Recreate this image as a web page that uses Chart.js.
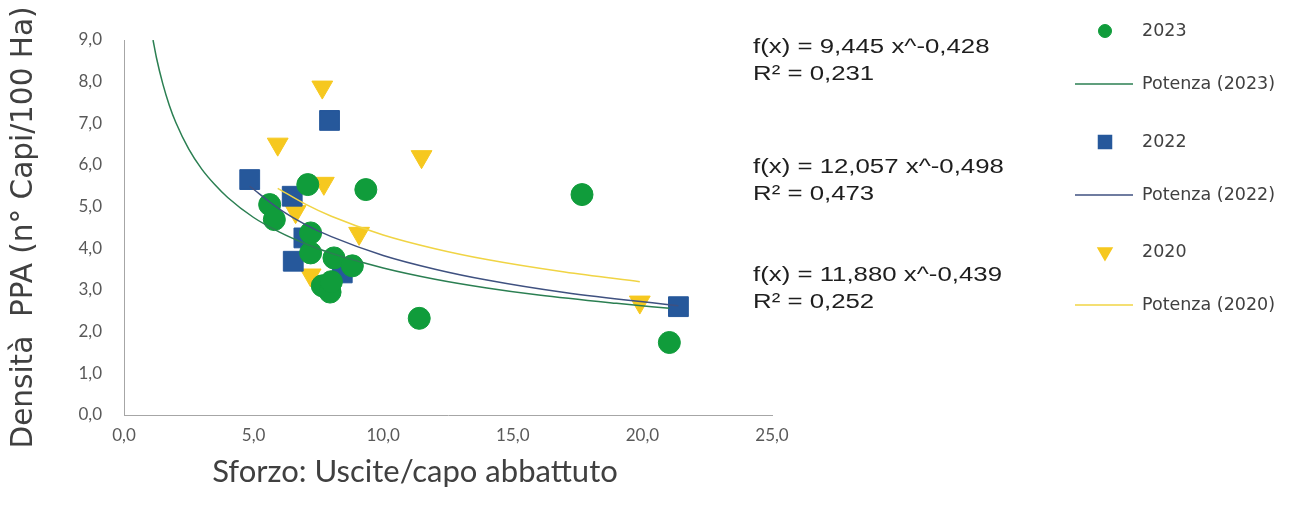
<!DOCTYPE html>
<html>
<head>
<meta charset="utf-8">
<script src="https://cdn.jsdelivr.net/npm/chart.js@4/dist/chart.umd.min.js"></script>
<style>
  body { margin: 0; background: #fff; }
  #wrap { position: relative; width: 1291px; height: 508px; }
</style>
</head>
<body>
<div id="wrap"><canvas id="chart"></canvas></div>
<script>
// Data
const pts2023X = [5.62, 5.80, 7.09, 9.33, 7.20, 7.20, 8.10, 8.81, 7.65, 7.95, 8.00, 11.39, 17.67, 21.04];
const pts2023Y = [5.05, 4.69, 5.53, 5.41, 4.37, 3.89, 3.77, 3.58, 3.10, 2.95, 3.20, 2.32, 5.29, 1.74];

const pts2022X = [4.85, 6.49, 6.94, 6.53, 8.42, 7.93, 21.39];
const pts2022Y = [5.65, 5.25, 4.25, 3.69, 3.41, 7.07, 2.60];

const pts2020X = [7.65, 5.93, 11.48, 7.71, 6.62, 9.07, 7.20, 19.90];
const pts2020Y = [7.87, 6.50, 6.20, 5.56, 4.88, 4.36, 3.36, 2.71];

// Power trendlines (Potenza), sampled from the drawn curves
const trend2023X = [1.12, 1.25, 1.5, 1.75, 2, 2.5, 3, 3.5, 4, 5, 6, 7, 8, 10, 12, 14, 16, 19, 21.04];
const trend2023Y = [9.00, 8.58, 7.94, 7.43, 7.02, 6.38, 5.90, 5.53, 5.22, 4.74, 4.39, 4.11, 3.88, 3.53, 3.26, 3.05, 2.88, 2.68, 2.56];

const trend2022X = [4.85, 6, 7, 8, 10, 12, 14, 17, 21.39];
const trend2022Y = [5.49, 4.94, 4.57, 4.28, 3.83, 3.50, 3.24, 2.94, 2.62];

const trend2020X = [5.93, 7, 8, 10, 12, 14, 17, 19.9];
const trend2020Y = [5.44, 5.06, 4.77, 4.32, 3.99, 3.73, 3.43, 3.20];

const fitEquations = ['f(x) = 9,445 x^-0,428', 'f(x) = 12,057 x^-0,498', 'f(x) = 11,880 x^-0,439'];
const fitR2 = ['R² = 0,231', 'R² = 0,473', 'R² = 0,252'];

const xTitle = 'Sforzo: Uscite/capo abbattuto';
const yTitle = 'Densità  PPA (n° Capi/100 Ha)';

const GREEN = '#109c3b';
const BLUE = '#26589b';
const YELLOW = '#f6c81f';

const toPoints = (xs, ys) => xs.map((x, i) => ({ x, y: ys[i] }));
const fmt = v => v.toFixed(1).replace('.', ',');

function scatterSet(label, xs, ys, color, style, radius, rotation) {
    return {
        label,
        data: toPoints(xs, ys),
        backgroundColor: color,
        borderColor: color,
        borderWidth: 1,
        pointStyle: style,
        pointRadius: radius,
        rotation: rotation || 0,
        showLine: false,
        order: 1
    };
}

function trendSet(label, xs, ys, color) {
    return {
        label,
        data: toPoints(xs, ys),
        borderColor: color,
        backgroundColor: color,
        borderWidth: 1.5,
        pointRadius: 0,
        showLine: true,
        cubicInterpolationMode: 'monotone',
        order: 0
    };
}

const datasets = [
    scatterSet('2023', pts2023X, pts2023Y, GREEN, 'circle', 11),
    trendSet('Potenza (2023)', trend2023X, trend2023Y, '#2b7f52'),
    scatterSet('2022', pts2022X, pts2022Y, BLUE, 'rect', 14),
    trendSet('Potenza (2022)', trend2022X, trend2022Y, '#3f5180'),
    scatterSet('2020', pts2020X, pts2020Y, YELLOW, 'triangle', 12, 180),
    trendSet('Potenza (2020)', trend2020X, trend2020Y, '#f0d444')
];

// text stretched sideways like the original export
function drawWide(ctx, text, x, y, sx) {
    ctx.save();
    ctx.translate(x, y);
    ctx.scale(sx, 1);
    ctx.fillText(text, 0, 0);
    ctx.restore();
}

const sidePanel = {
    id: 'sidePanel',
    afterDraw(chart) {
        const ctx = chart.ctx;
        ctx.save();
        ctx.textBaseline = 'middle';

        // x axis title
        ctx.font = '31px Lato';
        ctx.fillStyle = '#404040';
        ctx.textAlign = 'center';
        ctx.fillText(xTitle, 415, 472);

        // trendline equations
        ctx.textAlign = 'left';
        ctx.fillStyle = '#1e1e1e';
        ctx.font = '20px "Liberation Sans"';
        const eqY = [47, 167, 275];
        fitEquations.forEach((eq, i) => {
            drawWide(ctx, eq, 753, eqY[i], 1.29);
            drawWide(ctx, fitR2[i], 753, eqY[i] + 27, 1.29);
        });

        // legend
        const legendY = [31, 84, 142, 195, 252, 305];
        const legendR = { circle: 6.5, rect: 9.2, triangle: 8 };
        ctx.font = '17.5px "DejaVu Sans"';
        chart.data.datasets.forEach((ds, i) => {
            const y = legendY[i];
            ctx.fillStyle = ds.backgroundColor;
            ctx.strokeStyle = ds.borderColor;
            if (ds.showLine) {
                ctx.lineWidth = 1.5;
                ctx.beginPath();
                ctx.moveTo(1075, y);
                ctx.lineTo(1133, y);
                ctx.stroke();
            } else {
                Chart.helpers.drawPoint(ctx, {
                    pointStyle: ds.pointStyle,
                    radius: legendR[ds.pointStyle],
                    rotation: ds.rotation,
                    borderWidth: 1
                }, 1105, y);
            }
            ctx.fillStyle = '#404040';
            ctx.fillText(ds.label, 1142, y);
        });
        ctx.restore();
    }
};

new Chart(document.getElementById('chart'), {
    type: 'scatter',
    data: { datasets },
    options: {
        responsive: true,
        maintainAspectRatio: false,
        animation: false,
        events: [],
        layout: { padding: { top: 40, right: 1291 - 772, left: 0, bottom: 0 } },
        plugins: { legend: { display: false }, tooltip: { enabled: false } },
        scales: {
            x: {
                type: 'linear',
                min: 0,
                max: 25,
                afterFit: s => { s.height = 93; },
                grid: { display: false, drawTicks: false },
                border: { display: true, color: '#a6a6a6', width: 1 },
                ticks: {
                    stepSize: 5,
                    padding: 10,
                    color: '#595959',
                    font: { family: 'Lato', size: 17 },
                    callback: fmt
                }
            },
            y: {
                min: 0,
                max: 9,
                afterFit: s => { s.width = 124; },
                grid: { display: false, drawTicks: false },
                border: { display: true, color: '#a6a6a6', width: 1 },
                ticks: {
                    stepSize: 1,
                    padding: 22,
                    color: '#595959',
                    font: { family: 'Lato', size: 17 },
                    callback: fmt
                },
                title: {
                    display: true,
                    text: yTitle,
                    color: '#404040',
                    font: { family: 'DejaVu Sans', size: 29.5 },
                    padding: { top: 7 }
                }
            }
        }
    },
    plugins: [sidePanel]
});
</script>
</body>
</html>
